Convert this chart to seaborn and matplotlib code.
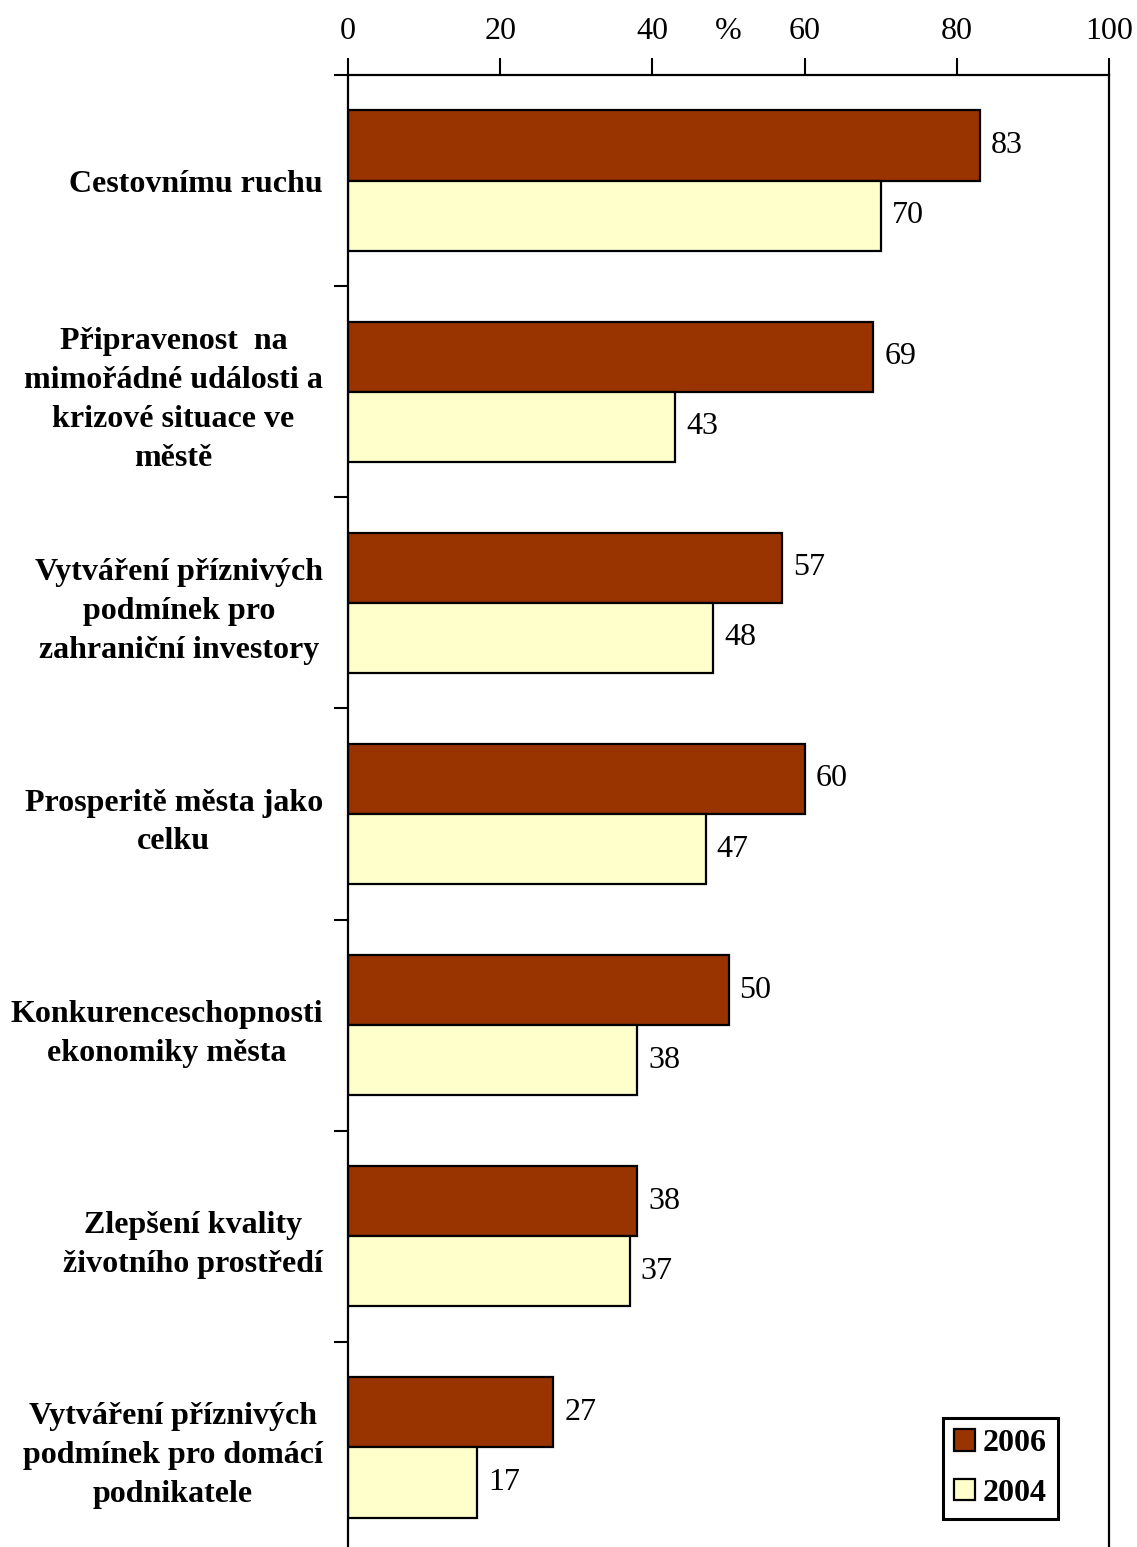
import pandas as pd
import matplotlib.pyplot as plt
import seaborn as sns

categories = [
    "Cestovnímu ruchu",
    "Připravenost  na\nmimořádné události a\nkrizové situace ve\nměstě",
    "Vytváření příznivých\npodmínek pro\nzahraniční investory",
    "Prosperitě města jako\ncelku",
    "Konkurenceschopnosti\nekonomiky města",
    "Zlepšení kvality\nživotního prostředí",
    "Vytváření příznivých\npodmínek pro domácí\npodnikatele",
]
years = ["2006", "2004"]
values_2006 = [83, 69, 57, 60, 50, 38, 27]
values_2004 = [70, 43, 48, 47, 38, 37, 17]
xticks = [0, 20, 40, 50, 60, 80, 100]
xticklabels = ["0", "20", "40", "%", "60", "80", "100"]

df = pd.DataFrame({
    "kategorie": categories * 2,
    "rok": ["2006"] * len(categories) + ["2004"] * len(categories),
    "hodnota": values_2006 + values_2004,
})

sns.set_style("white")
plt.rcParams["font.family"] = ["Liberation Serif", "DejaVu Serif"]
plt.rcParams["text.color"] = "black"
plt.rcParams["xtick.color"] = "black"
plt.rcParams["ytick.color"] = "black"
plt.rcParams["axes.labelcolor"] = "black"

W, H = 1137, 1547
fig = plt.figure(figsize=(W / 100, H / 100), dpi=100)
ax = fig.add_axes([348 / W, (H - 1553) / H, 761 / W, (1553 - 75) / H])

ax = sns.barplot(data=df, y="kategorie", x="hodnota", hue="rok", hue_order=years,
                 order=categories, orient="h", width=0.664,
                 palette=["#993300", "#FFFFCC"], edgecolor="black", linewidth=1.6,
                 saturation=1, ax=ax)

for cont in ax.containers:
    ax.bar_label(cont, fmt="%d", padding=8, fontsize=23, color="black")

ax.set_xlim(0, 100)
ax.set_ylim(len(categories) - 0.5, -0.5)
ax.xaxis.tick_top()
ax.set_xticks(xticks)
ax.set_xticklabels(xticklabels)
ax.tick_params(axis="x", direction="out", length=12, width=1.5, pad=9, labelsize=23)
# znacka % nema carku
ax.xaxis.get_major_ticks()[3].tick2line.set_visible(False)

ax.set_yticks(range(len(categories)))
ax.set_yticklabels(categories, fontweight="bold", fontsize=23,
                   multialignment="center", linespacing=1.45)
ax.tick_params(axis="y", length=0, pad=18)
ax.set_yticks([i + 0.5 for i in range(-1, len(categories))], minor=True)
ax.tick_params(axis="y", which="minor", direction="out", length=10, width=1.5, left=True)
ax.set_xlabel("")
ax.set_ylabel("")

for side in ["top", "left", "right"]:
    ax.spines[side].set_visible(True)
    ax.spines[side].set_color("black")
    ax.spines[side].set_linewidth(1.6)
ax.spines["bottom"].set_visible(False)

handles, labels = ax.get_legend_handles_labels()
ax.legend(handles, labels, loc="upper left", bbox_to_anchor=(943 / W, 1 - 1418 / H),
          bbox_transform=fig.transFigure, borderaxespad=0, frameon=True, fancybox=False,
          framealpha=1, edgecolor="black", prop={"weight": "bold", "size": 23},
          handlelength=0.65, handleheight=0.65, handletextpad=0.25, labelspacing=0.65,
          borderpad=0.35)
ax.get_legend().get_frame().set_linewidth(2.2)

fig.savefig("out.png", dpi=100)
